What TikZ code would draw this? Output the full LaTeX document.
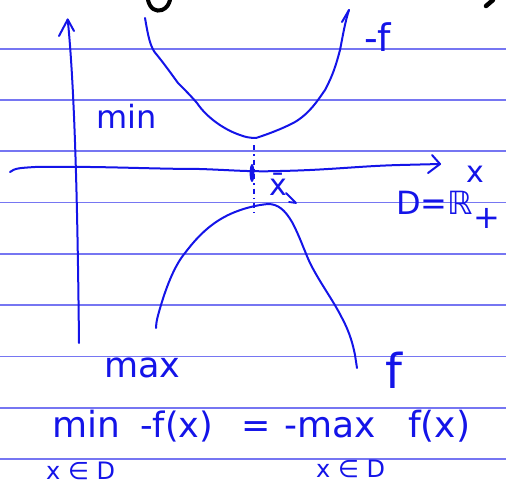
\documentclass[tikz,border=0pt]{standalone}
\usepackage{fontspec}
\setmainfont{DejaVu Sans}
\usetikzlibrary{calc}
\definecolor{ink}{RGB}{20,20,232}
\definecolor{rule}{RGB}{118,118,242}
\tikzset{
  pen/.style={draw=ink, line width=2pt, line cap=round, line join=round},
  ruling/.style={draw=rule, line width=1.3pt},
  hand/.style={text=ink, inner sep=0pt, anchor=base west},
}
\begin{document}
\begin{tikzpicture}[x=1pt,y=-1pt]
\useasboundingbox (0,0) rectangle (506,487);
% ruled paper lines
\foreach \yy in {49,100,151,202.5,254,305,356.5,408,459}
  \draw[ruling] (0,\yy) -- (506,\yy);

% black fragments at the top edge
\draw[black, line width=4pt, line cap=round] (148,0) .. controls (150,9) and (156,12) .. (162,10) .. controls (167,8) and (169,4) .. (170,0);
\draw[black, line width=4.5pt, line cap=round] (486,6) -- (493,0);

% y axis
\coordinate (ybot) at (79,343);
\coordinate (ytop) at (67.7,19.5);
\draw[pen] (ybot) .. controls (78,250) and (76,100) .. (ytop);
\draw[pen] (59,36) -- (ytop) -- (74,31);

% x axis
\coordinate (xl) at (10,172);
\coordinate (xr) at (440,164);
\draw[pen] (xl) .. controls (15,168) and (20,168) .. (35,167)
  .. controls (100,166) and (150,169) .. (200,169)
  .. controls (230,170) and (250,172) .. (280,171)
  .. controls (330,170) and (360,166) .. (400,165)
  -- (xr);
\draw[pen] (432,155) -- (xr) -- (428,173);

% dash-dot line through the extremum
\draw[draw=ink, line width=1.3pt, dash pattern=on 5pt off 4pt on 1.5pt off 4pt] (254,145) -- (254,213);
\fill[ink] (252,173) ellipse (2.4pt and 9pt);

% upper curve (-f)
\draw[pen] (145,18) .. controls (148,35) and (150,48) .. (157,55)
  .. controls (165,65) and (170,72) .. (178,83)
  .. controls (185,90) and (190,95) .. (197,103)
  .. controls (207,118) and (225,130) .. (240,135)
  .. controls (245,137) and (250,138) .. (256,138)
  .. controls (265,135) and (280,130) .. (295,122)
  .. controls (310,113) and (318,100) .. (325,90)
  .. controls (333,75) and (336,65) .. (340,50)
  .. controls (343,35) and (345,22) .. (349,10);
\draw[pen] (349,10) -- (342,22);

% lower curve (f)
\draw[pen] (156,328) .. controls (156,322) and (158,315) .. (161,305)
  .. controls (167,285) and (175,265) .. (185,253)
  .. controls (200,233) and (215,220) .. (235,212)
  .. controls (248,207) and (258,205) .. (268,204)
  .. controls (278,204) and (285,210) .. (292,222)
  .. controls (300,237) and (304,250) .. (310,263)
  .. controls (320,283) and (333,300) .. (342,318)
  .. controls (350,333) and (353,345) .. (355,355)
  -- (357,368);

% labels
\node[hand, font=\fontsize{32}{32}\selectfont] (lmin) at (96,128) {min};
\node[hand, font=\fontsize{38}{38}\selectfont] (lnegf) at (364,52) {-f};
\node[hand, font=\fontsize{35}{35}\selectfont] (lmax) at (104,377) {max};
\node[hand, font=\fontsize{48}{48}\selectfont] (lf) at (385,388) {f};
\node[hand, font=\fontsize{30}{30}\selectfont] (lx) at (466,182) {x};
\node[hand, font=\fontsize{32}{32}\selectfont] (ldom) at (396,214) {D=ℝ\raisebox{-14pt}{+}};
\node[hand, font=\fontsize{30}{30}\selectfont] (lxbar) at (269,195) {x̄};
\draw[pen, line width=1.8pt] (286,193) -- (296,203) -- (289,202);

% equation
\node[hand, font=\fontsize{36}{36}\selectfont] (emin) at (52,437) {min};
\node[hand, font=\fontsize{35}{35}\selectfont] (enf) at (140,437) {-f(x)};
\node[hand, font=\fontsize{35}{35}\selectfont] (eeq) at (241,437) {=};
\node[hand, font=\fontsize{36}{36}\selectfont] (emax) at (284,437) {-max};
\node[hand, font=\fontsize{36}{36}\selectfont] (ef) at (408,437) {f(x)};
\node[hand, font=\fontsize{24}{24}\selectfont] (esub1) at (46,479) {x ∈ D};
\node[hand, font=\fontsize{24}{24}\selectfont] (esub2) at (316,477) {x ∈ D};
\end{tikzpicture}
\end{document}
